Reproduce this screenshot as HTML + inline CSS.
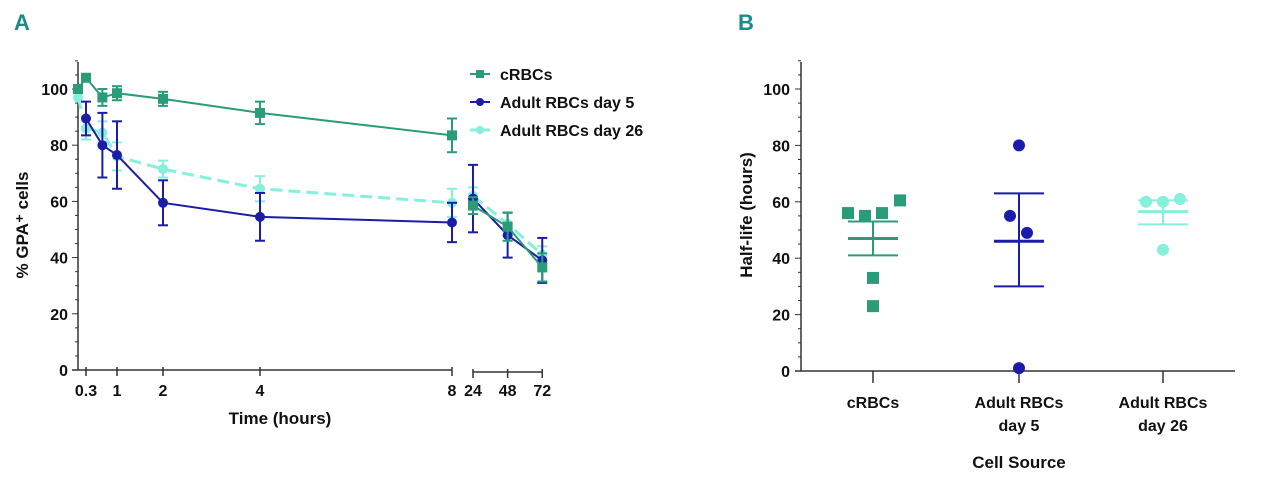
<!DOCTYPE html>
<html><head><meta charset="utf-8"><style>
html,body{margin:0;padding:0;background:#fff;}
svg text{font-family:"Liberation Sans",sans-serif;font-weight:bold;fill:#111;}
</style></head><body>
<svg width="1280" height="485" viewBox="0 0 1280 485">
<g id="A"></g>
<g id="B"></g>
</svg>
<script>
// Panel A data
const timesA = [0, 0.3, 0.67, 1, 2, 4, 8, 24, 48, 72];
const cRBC = [100, 104, 97, 98.5, 96.5, 91.5, 83.5, 58.5, 51, 36.5];
const cRBCerr = [1, 1, 3, 2.5, 2.5, 4, 6, 3, 5, 5];
const day5 = [null, 89.5, 80, 76.5, 59.5, 54.5, 52.5, 61, 48, 39];
const day5err = [0, 6, 11.5, 12, 8, 8.5, 7, 12, 8, 8];
const day26 = [97, 86, 84.5, 76, 71.5, 64.5, 59.5, 62, 52, 41];
const day26err = [0, 4, 4, 5, 3, 4.5, 5, 3, 4, 3];
const yTicksA = [0, 20, 40, 60, 80, 100];
const xTickLabelsA = ["0.3", "1", "2", "4", "8", "24", "48", "72"];
const xTickValsA = [0.3, 1, 2, 4, 8, 24, 48, 72];
// Panel B data
const catsB = ["cRBCs", "Adult RBCs|day 5", "Adult RBCs|day 26"];
const ptsB0 = [56, 55, 56, 60.5, 33, 23];
const ptsB1 = [80, 55, 49, 1];
const ptsB2 = [60, 60, 61, 43];
const meanB = [47, 46, 56.5];
const semLoB = [41, 30, 52];
const semHiB = [53, 63, 60.5];
const yTicksB = [0, 20, 40, 60, 80, 100];

const NS = "http://www.w3.org/2000/svg";
function mk(parent, tag, attrs, name) {
  const e = document.createElementNS(NS, tag);
  for (const k in attrs) e.setAttribute(k, attrs[k]);
  
  
  parent.appendChild(e);
  return e;
}
function txt(parent, x, y, s, size, name, anchor, extra) {
  const t = mk(parent, 'text', Object.assign({x: x, y: y, 'font-size': size, 'text-anchor': anchor || 'middle'}, extra || {}), name);
  t.textContent = s;
  return t;
}
const GREEN = "#2a9d78", BLUE = "#1c1caa", CYAN = "#86f0da", AX = "#333";

// ---- Panel A ----
const A = document.getElementById('A');
const yA = v => 370 - v * 2.81;
const seg1 = [[0, 78], [0.3, 86], [1, 117], [2, 163], [4, 260], [8, 452]];
function xA(t) {
  if (t >= 24) return 473 + (t - 24) * 1.443;
  for (let i = 1; i < seg1.length; i++) {
    if (t <= seg1[i][0]) {
      const [t0, x0] = seg1[i - 1], [t1, x1] = seg1[i];
      return x0 + (t - t0) / (t1 - t0) * (x1 - x0);
    }
  }
  return 452;
}
txt(A, 22, 30, "A", 22, "panel-a-label", "middle", {style: "fill:#1a8a8a"});
mk(A, 'line', {x1: 78, y1: 62, x2: 78, y2: 370, stroke: AX, 'stroke-width': 1.5}, "y-axis");
mk(A, 'line', {x1: 72, y1: 370, x2: 452, y2: 370, stroke: AX, 'stroke-width': 1.5}, "x-axis-segment-1");
mk(A, 'line', {x1: 473, y1: 372, x2: 542, y2: 372, stroke: AX, 'stroke-width': 1.5}, "x-axis-segment-2");
for (let v = 0; v <= 110; v += 5) {
  const major = v % 20 === 0;
  mk(A, 'line', {x1: major ? 72 : 75, y1: yA(v), x2: 78, y2: yA(v), stroke: AX, 'stroke-width': 1}, "y-tick");
}
yTicksA.forEach(v => txt(A, 68, yA(v) + 6, String(v), 16, "y-tick-label", "end"));
xTickValsA.forEach((t, i) => {
  const x = xA(t), base = t >= 24 ? 372 : 370;
  mk(A, 'line', {x1: x, y1: base - 3, x2: x, y2: base + 6, stroke: AX, 'stroke-width': 1.5}, "x-tick");
  txt(A, x, 396, xTickLabelsA[i], 16, "x-tick-label");
});
txt(A, 280, 424, "Time (hours)", 17, "x-axis-title");
txt(A, 0, 0, "% GPA⁺ cells", 17, "y-axis-title", "middle", {transform: "translate(28,225) rotate(-90)"});

function series(vals, errs, color, dash, marker, name) {
  const g = mk(A, 'g', {}, name);
  const draw = (lo, hi) => {
    let d = "";
    for (let i = lo; i <= hi; i++) {
      if (vals[i] == null) continue;
      d += (d ? "L" : "M") + xA(timesA[i]) + "," + yA(vals[i]);
    }
    mk(g, 'path', {d: d, fill: 'none', stroke: color, 'stroke-width': dash ? 3 : 2, 'stroke-dasharray': dash ? "12,6" : "none"}, name + "-line");
  };
  draw(0, 6); draw(7, 9);
  vals.forEach((v, i) => {
    if (v == null) return;
    const x = xA(timesA[i]), e = errs[i];
    if (e > 1) {
      mk(g, 'line', {x1: x, y1: yA(v - e), x2: x, y2: yA(v + e), stroke: color, 'stroke-width': 2}, name + "-errorbar");
      mk(g, 'line', {x1: x - 5, y1: yA(v + e), x2: x + 5, y2: yA(v + e), stroke: color, 'stroke-width': 2}, name + "-errorcap");
      mk(g, 'line', {x1: x - 5, y1: yA(v - e), x2: x + 5, y2: yA(v - e), stroke: color, 'stroke-width': 2}, name + "-errorcap");
    }
    if (marker === 'sq') mk(g, 'rect', {x: x - 5, y: yA(v) - 5, width: 10, height: 10, fill: color}, name + "-point");
    else mk(g, 'circle', {cx: x, cy: yA(v), r: 5, fill: color}, name + "-point");
  });
}
series(day26, day26err, CYAN, true, 'c', "series-adult-day26");
series(day5, day5err, BLUE, false, 'c', "series-adult-day5");
series(cRBC, cRBCerr, GREEN, false, 'sq', "series-crbcs");

const leg = [["cRBCs", GREEN, 'sq', false], ["Adult RBCs day 5", BLUE, 'c', false], ["Adult RBCs day 26", CYAN, 'c', true]];
leg.forEach((l, i) => {
  const y = 74 + i * 28;
  const g = mk(A, 'g', {}, "legend-entry");
  mk(g, 'line', {x1: 470, y1: y, x2: 490, y2: y, stroke: l[1], 'stroke-width': l[3] ? 3 : 2}, "legend-line");
  if (l[2] === 'sq') mk(g, 'rect', {x: 476, y: y - 4, width: 8, height: 8, fill: l[1]}, "legend-marker");
  else mk(g, 'circle', {cx: 480, cy: y, r: 4, fill: l[1]}, "legend-marker");
  txt(g, 500, y + 6, l[0], 16, "legend-label", "start");
});

// ---- Panel B ----
const B = document.getElementById('B');
const yB = v => 371 - v * 2.82;
const xCat = [873, 1019, 1163];
txt(B, 746, 30, "B", 22, "panel-b-label", "middle", {style: "fill:#1a8a8a"});
mk(B, 'line', {x1: 801, y1: 62, x2: 801, y2: 371, stroke: AX, 'stroke-width': 1.5}, "y-axis");
mk(B, 'line', {x1: 795, y1: 371, x2: 1235, y2: 371, stroke: AX, 'stroke-width': 1.5}, "x-axis");
for (let v = 0; v <= 110; v += 5) {
  const major = v % 20 === 0;
  mk(B, 'line', {x1: major ? 795 : 798, y1: yB(v), x2: 801, y2: yB(v), stroke: AX, 'stroke-width': 1}, "y-tick");
}
yTicksB.forEach(v => txt(B, 790, yB(v) + 6, String(v), 16, "y-tick-label", "end"));
catsB.forEach((c, i) => {
  mk(B, 'line', {x1: xCat[i], y1: 371, x2: xCat[i], y2: 383, stroke: AX, 'stroke-width': 1.5}, "x-tick");
  c.split("|").forEach((s, j) => txt(B, xCat[i], 408 + j * 23, s, 16, "x-tick-label"));
});
txt(B, 1019, 468, "Cell Source", 17, "x-axis-title");
txt(B, 0, 0, "Half-life (hours)", 17, "y-axis-title", "middle", {transform: "translate(752,215) rotate(-90)"});
const colsB = [GREEN, BLUE, CYAN];
const offs = [[-25, -8, 9, 27, 0, 0], [0, -9, 8, 0], [-17, 0, 17, 0]];
[ptsB0, ptsB1, ptsB2].forEach((pts, i) => {
  const g = mk(B, 'g', {}, "group-" + i);
  const c = colsB[i], x = xCat[i];
  mk(g, 'line', {x1: x, y1: yB(semLoB[i]), x2: x, y2: yB(semHiB[i]), stroke: c, 'stroke-width': 2}, "sem-bar");
  mk(g, 'line', {x1: x - 25, y1: yB(semLoB[i]), x2: x + 25, y2: yB(semLoB[i]), stroke: c, 'stroke-width': 2}, "sem-low");
  mk(g, 'line', {x1: x - 25, y1: yB(semHiB[i]), x2: x + 25, y2: yB(semHiB[i]), stroke: c, 'stroke-width': 2}, "sem-high");
  mk(g, 'line', {x1: x - 25, y1: yB(meanB[i]), x2: x + 25, y2: yB(meanB[i]), stroke: c, 'stroke-width': 3}, "mean-line");
  pts.forEach((v, k) => {
    const px = x + offs[i][k];
    if (i === 0) mk(g, 'rect', {x: px - 6, y: yB(v) - 6, width: 12, height: 12, fill: c}, "data-point");
    else mk(g, 'circle', {cx: px, cy: yB(v), r: 6, fill: c}, "data-point");
  });
});
</script>
</body></html>
